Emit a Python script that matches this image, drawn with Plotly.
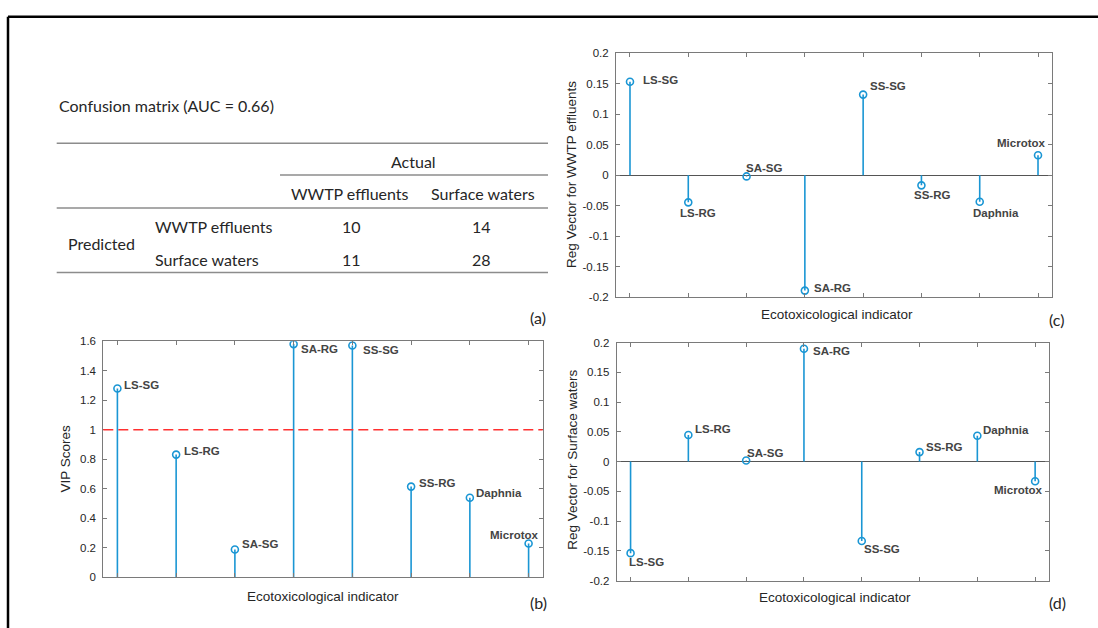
import plotly.graph_objects as go

# ---------------- data ----------------
indicators = ["LS-SG", "LS-RG", "SA-SG", "SA-RG", "SS-SG", "SS-RG", "Daphnia", "Microtox"]
vip_scores = [1.279, 0.831, 0.188, 1.580, 1.571, 0.614, 0.538, 0.228]
reg_wwtp = [0.153, -0.0445, -0.002, -0.189, 0.132, -0.0166, -0.0434, 0.0327]
reg_surface = [-0.154, 0.0447, 0.002, 0.190, -0.1335, 0.016, 0.0436, -0.033]
vip_threshold = 1.0

auc_value = 0.66
actual_classes = ["WWTP effluents", "Surface waters"]
predicted_classes = ["WWTP effluents", "Surface waters"]
confusion = [[10, 14], [11, 28]]

vip_tickvals = [0, 0.2, 0.4, 0.6, 0.8, 1.0, 1.2, 1.4, 1.6]
vip_ticktext = ["0", "0.2", "0.4", "0.6", "0.8", "1", "1.2", "1.4", "1.6"]
reg_tickvals = [-0.2, -0.15, -0.1, -0.05, 0, 0.05, 0.1, 0.15, 0.2]
reg_ticktext = ["-0.2", "-0.15", "-0.1", "-0.05", "0", "0.05", "0.1", "0.15", "0.2"]

# ---------------- styling / layout helpers ----------------
W, H = 1098, 628
STEM = "#1a96d4"
AXC = "#7a7a7a"
TXT = "#262626"
AXFONT = "Liberation Sans, Arial, sans-serif"
TABFONT = "Lato, Open Sans, sans-serif"


def px(x):
    return x / W


def py(y):
    return 1 - y / H


# label offsets (anchor, dx, dy-up) per panel
off_b = [("left", 5.7, 3.3), ("left", 7, 3.3), ("left", 6, 5.7), ("left", 6, -5),
         ("left", 9.7, -4.7), ("left", 7, 3.7), ("left", 5, 5), ("center", -14, 8.3)]
off_c = [("left", 12.3, 2), ("center", 9.3, -10.7), ("center", 17.8, 8.7), ("left", 8, 2.3),
         ("left", 6.3, 8.7), ("center", 10.5, -10), ("center", 16, -11), ("center", -17, 12.3)]
off_d = [("center", 15.7, -9), ("left", 5.7, 5.7), ("left", 0, 7.3), ("left", 7.7, -2),
         ("left", 1, -8.3), ("left", 5, 5.3), ("left", 5, 5.3), ("center", -17, -8.7)]

fig = go.Figure()
xpos = list(range(1, len(indicators) + 1))


def add_stem(values, xa, ya):
    sx, sy = [], []
    for i, v in zip(xpos, values):
        sx += [i, i, None]
        sy += [0, v, None]
    fig.add_trace(go.Scatter(x=sx, y=sy, mode="lines", line=dict(color=STEM, width=1.6),
                             xaxis=xa, yaxis=ya, hoverinfo="skip", showlegend=False))
    fig.add_trace(go.Scatter(x=xpos, y=values, mode="markers",
                             marker=dict(symbol="circle-open", size=7, color=STEM,
                                         line=dict(width=1.6, color=STEM)),
                             xaxis=xa, yaxis=ya, text=indicators, showlegend=False))


add_stem(vip_scores, "x", "y")
add_stem(reg_wwtp, "x2", "y2")
add_stem(reg_surface, "x3", "y3")

annotations = []


def add_labels(values, offs, xr, yr):
    for i, v, name, (anc, dx, dy) in zip(xpos, values, indicators, offs):
        annotations.append(dict(x=i, y=v, xref=xr, yref=yr, text="<b>%s</b>" % name,
                                showarrow=False, xanchor=anc, yanchor="middle",
                                xshift=dx, yshift=dy,
                                font=dict(family=AXFONT, size=11.5, color="#444444"),
                                borderpad=0))


add_labels(vip_scores, off_b, "x", "y")
add_labels(reg_wwtp, off_c, "x2", "y2")
add_labels(reg_surface, off_d, "x3", "y3")

xcommon = dict(range=[0.76, 8.24], tickvals=xpos, showticklabels=False, ticks="inside",
               ticklen=4, tickcolor=AXC, showline=True, linecolor=AXC, linewidth=1,
               mirror="allticks", showgrid=False, zeroline=False, fixedrange=True)
ycommon = dict(ticks="inside", ticklen=4, tickcolor=AXC, showline=True, linecolor=AXC,
               linewidth=1, mirror="allticks", showgrid=False,
               tickfont=dict(family=AXFONT, size=11.5, color=TXT), ticklabelstandoff=4)

fig.update_layout(
    width=W, height=H, margin=dict(l=0, r=0, t=0, b=0),
    paper_bgcolor="white", plot_bgcolor="white", showlegend=False,
    xaxis=dict(domain=[px(103.3), px(542.7)], anchor="y", **xcommon),
    yaxis=dict(domain=[py(582.3), py(341.7)], anchor="x", range=[0, 1.6],
               tickvals=vip_tickvals, ticktext=vip_ticktext, zeroline=False, **ycommon),
    xaxis2=dict(domain=[px(616), px(1052)], anchor="y2", **xcommon),
    yaxis2=dict(domain=[py(297), py(48)], anchor="x2", range=[-0.2, 0.2],
                tickvals=reg_tickvals, ticktext=reg_ticktext, zeroline=True,
                zerolinecolor="#555555", zerolinewidth=1, **ycommon),
    xaxis3=dict(domain=[px(616.7), px(1049)], anchor="y3", **xcommon),
    yaxis3=dict(domain=[py(585.7), py(343.3)], anchor="x3", range=[-0.2, 0.2],
                tickvals=reg_tickvals, ticktext=reg_ticktext, zeroline=True,
                zerolinecolor="#555555", zerolinewidth=1, **ycommon),
)

shapes = []
# VIP threshold dashed line
shapes.append(dict(type="line", xref="x domain", yref="y", x0=0, x1=1,
                   y0=vip_threshold, y1=vip_threshold,
                   line=dict(color="#ff3030", width=1.5, dash="10px,5px")))
# outer frame (top and left edges)
shapes.append(dict(type="line", xref="paper", yref="paper", x0=px(8), x1=1.01,
                   y0=py(11), y1=py(11), line=dict(color="black", width=2.5)))
shapes.append(dict(type="line", xref="paper", yref="paper", x0=px(8), x1=px(8),
                   y0=py(11), y1=-0.01, line=dict(color="black", width=2.5)))
# table rules
RULE = "#8c8c8c"
for (x0, x1, yy) in [(56.7, 548, 140), (280, 548, 172.3), (56.7, 548, 206), (56.7, 548, 271.7)]:
    shapes.append(dict(type="line", xref="paper", yref="paper", x0=px(x0), x1=px(x1),
                       y0=py(yy), y1=py(yy), line=dict(color=RULE, width=1.5)))


def paper_text(text, x, y, anchor="center", size=16, family=TABFONT, color=TXT, angle=0):
    annotations.append(dict(x=px(x), y=py(y), xref="paper", yref="paper", text=text,
                            showarrow=False, xanchor=anchor, yanchor="middle",
                            textangle=angle, font=dict(family=family, size=size, color=color)))


# table (a)
paper_text("Confusion matrix (AUC = %.2f)" % auc_value, 56.7, 101.7, anchor="left", size=16)
paper_text("Actual", 413, 159)
paper_text(actual_classes[0], 350, 191)
paper_text(actual_classes[1], 483, 191)
paper_text("Predicted", 101, 241.7)
paper_text(predicted_classes[0], 153.3, 225, anchor="left")
paper_text(predicted_classes[1], 153.3, 258, anchor="left")
col_x = [351.7, 481.7]
row_y = [225, 258]
for r in range(2):
    for c in range(2):
        paper_text(str(confusion[r][c]), col_x[c], row_y[r])

# panel letters
paper_text("(a)", 538, 318, size=16)
paper_text("(b)", 538, 608, size=16)
paper_text("(c)", 1056, 320, size=16)
paper_text("(d)", 1057, 608, size=16)

# axis titles
paper_text("Ecotoxicological indicator", 322.7, 601.7, size=13.5, family=AXFONT)
paper_text("Ecotoxicological indicator", 836.7, 314, size=13.5, family=AXFONT)
paper_text("Ecotoxicological indicator", 835, 603.3, size=13.5, family=AXFONT)
paper_text("VIP Scores", 65.7, 461.7, size=13.5, family=AXFONT, angle=-90)
paper_text("Reg Vector for WWTP effluents", 571.7, 171.7, size=13.5, family=AXFONT, angle=-90)
paper_text("Reg Vector for Surface waters", 571.7, 463, size=13.5, family=AXFONT, angle=-90)

fig.update_layout(shapes=shapes, annotations=annotations)
fig.write_html(
    "out.html",
    config={"displayModeBar": False},
    post_script="document.body.style.margin='0';document.body.style.overflow='hidden';",
)
